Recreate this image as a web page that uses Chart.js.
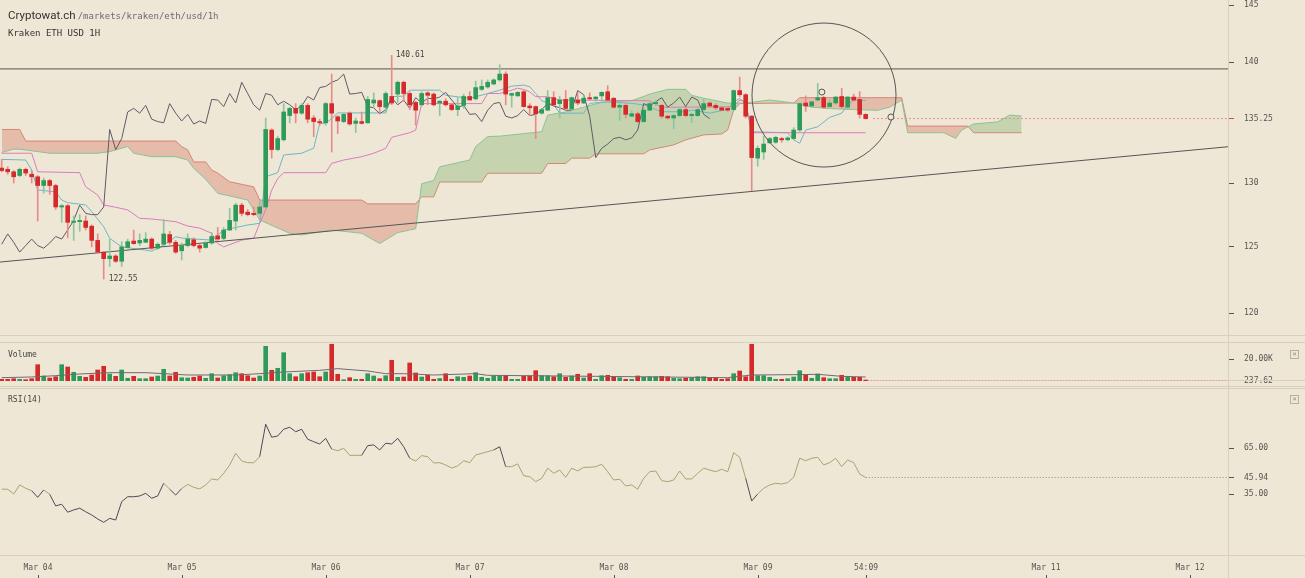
<!DOCTYPE html>
<html>
<head>
<meta charset="utf-8">
<title>Kraken ETH USD 1H</title>
<script src="https://cdn.jsdelivr.net/npm/chart.js@4.4.1/dist/chart.umd.min.js"></script>
<style>
  html, body { margin: 0; padding: 0; }
  body { width: 1305px; height: 578px; position: relative; overflow: hidden; background: #efe7d5; font-family: "DejaVu Sans Mono", monospace; color: #444; }
  canvas { position: absolute; left: 0; }
  #main { top: 0; }
  #vol { top: 343px; }
  #rsi { top: 388px; }
  .rule { position: absolute; background: #d9d0bb; }
  .title { position: absolute; left: 8px; top: 8px; font: 11.5px Roboto, "Liberation Sans", sans-serif; color: #333; white-space: nowrap; }
  .title span { font: 9px "DejaVu Sans Mono", monospace; color: #6e6878; margin-left: 2px; }
  .sub { position: absolute; left: 8px; top: 28px; font: 9px "DejaVu Sans Mono", monospace; color: #333; }
  .pane { position: absolute; left: 8px; font: 8px "DejaVu Sans Mono", monospace; color: #444; }
  .close { position: absolute; left: 1290px; width: 7px; height: 7px; border: 1px solid #b8b09f; font: 7px/7px "DejaVu Sans Mono", monospace; color: #888; text-align: center; }
</style>
</head>
<body>
<canvas id="main" width="1305" height="336"></canvas>
<canvas id="vol" width="1305" height="43"></canvas>
<canvas id="rsi" width="1305" height="190"></canvas>

<div class="rule" style="left:0;top:335px;width:1305px;height:1px"></div>
<div class="rule" style="left:0;top:342px;width:1305px;height:1px"></div>
<div class="rule" style="left:0;top:386px;width:1305px;height:1px"></div>
<div class="rule" style="left:0;top:388px;width:1305px;height:1px"></div>
<div class="rule" style="left:0;top:555px;width:1305px;height:1px"></div>
<div class="rule" style="left:1228px;top:380px;width:77px;height:1px"></div>
<div class="rule" style="left:1228px;top:0;width:1px;height:578px"></div>

<div class="title">Cryptowat.ch<span>/markets/kraken/eth/usd/1h</span></div>
<div class="sub">Kraken ETH USD 1H</div>
<div class="pane" style="top:350px">Volume</div>
<div class="pane" style="top:395px">RSI(14)</div>
<div class="close" style="top:350px">×</div>
<div class="close" style="top:395px">×</div>

<script>
// hourly candles, first one is Mar 03 18:00 (hour -6 counted from Mar 04 00:00)
const firstBar = -6;

const opens = [
  131.2, 131.1, 130.9, 130.6, 131.1, 130.7, 130.5, 129.8, 130.2, 129.8,
  128.1, 128.2, 126.9, 126.95, 127.0, 126.6, 125.5, 124.6, 124.1, 124.3,
  123.9, 124.95, 125.45, 125.3, 125.35, 125.6, 124.9, 125.2, 125.95, 125.35,
  124.7, 125.1, 125.55, 125.1, 124.95, 125.3, 125.85, 125.65, 126.3, 127.0,
  128.25, 127.7, 127.6, 127.6, 128.1, 134.3, 132.7, 133.5, 135.5, 136.1,
  135.7, 136.35, 135.3, 135.0, 134.9, 136.5, 135.4, 135.0, 135.7, 134.85,
  135.0, 134.9, 136.55, 136.75, 136.2, 137.1, 137.3, 138.3, 137.35, 136.6,
  136.4, 137.4, 137.3, 136.55, 136.7, 136.4, 136.0, 136.35, 137.1, 136.9,
  137.7, 137.9, 138.15, 138.5, 139.0, 137.2, 137.15, 137.5, 136.3, 136.25,
  135.7, 135.95, 137.0, 136.5, 136.85, 136.05, 136.8, 136.55, 137.0, 136.9,
  137.15, 137.5, 136.95, 136.2, 136.35, 135.45, 135.65, 135.0, 135.95, 136.5,
  136.35, 135.45, 135.3, 135.5, 136.0, 135.5, 135.5, 136.0, 136.55, 136.35,
  136.15, 136.1, 136.0, 137.6, 137.25, 135.45, 132.0, 132.5, 133.25, 133.3,
  133.6, 133.5, 133.6, 134.3, 136.55, 136.3, 136.8, 137.0, 136.25, 136.55,
  137.1, 136.2, 137.05, 136.85, 135.6
];
const highs = [
  131.9, 131.3, 131.0, 131.2, 131.2, 131.0, 130.6, 130.4, 130.3, 129.9,
  128.3, 128.3, 127.4, 127.5, 127.4, 126.7, 126.0, 124.6, 125.6, 124.4,
  125.4, 125.6, 126.3, 126.0, 126.1, 125.7, 125.3, 127.1, 126.2, 125.5,
  125.3, 126.0, 125.7, 125.2, 125.4, 126.1, 126.5, 126.5, 128.0, 128.4,
  128.4, 127.9, 128.1, 128.6, 135.3, 134.4, 133.8, 136.5, 136.2, 136.5,
  136.5, 136.5, 135.5, 135.2, 136.6, 139.0, 135.5, 135.7, 135.8, 135.3,
  135.8, 137.1, 137.4, 136.8, 137.5, 140.61, 138.4, 138.4, 137.5, 136.7,
  137.5, 137.5, 137.4, 136.75, 136.9, 136.5, 137.0, 137.3, 137.5, 138.4,
  138.5, 138.5, 138.6, 139.8, 139.2, 137.4, 137.5, 137.6, 136.5, 136.3,
  136.1, 137.6, 137.5, 137.1, 137.6, 137.05, 137.4, 137.2, 137.4, 137.1,
  137.5, 138.0, 137.0, 136.5, 136.5, 135.9, 135.8, 136.1, 136.6, 136.8,
  136.45, 135.5, 135.6, 136.2, 136.2, 135.7, 136.1, 136.9, 136.65, 136.5,
  136.2, 136.2, 137.65, 138.75, 137.35, 135.5, 133.0, 133.8, 133.7, 133.8,
  133.7, 133.75, 134.5, 136.6, 137.15, 136.7, 138.2, 137.1, 136.8, 137.1,
  137.8, 137.1, 137.3, 137.5, 135.65
];
const lows = [
  130.9, 130.7, 130.0, 130.5, 130.6, 130.0, 127.0, 129.2, 129.1, 127.9,
  126.9, 125.7, 125.5, 126.2, 126.3, 125.0, 124.5, 122.55, 123.5, 123.8,
  123.5, 124.9, 125.2, 125.1, 125.35, 124.8, 124.8, 125.1, 125.2, 124.5,
  124.0, 125.0, 125.0, 124.6, 124.9, 125.2, 125.5, 125.55, 126.25, 126.3,
  127.4, 127.4, 127.4, 127.5, 128.0, 132.0, 132.6, 133.4, 134.9, 134.9,
  135.6, 134.9, 133.75, 134.7, 134.7, 132.5, 134.0, 134.9, 134.7, 134.1,
  134.8, 134.85, 136.2, 135.7, 135.8, 136.4, 136.6, 136.7, 136.0, 134.7,
  136.3, 136.4, 136.3, 135.5, 136.3, 135.9, 135.5, 136.1, 136.8, 136.8,
  137.6, 137.8, 138.1, 138.4, 136.4, 136.2, 137.1, 136.2, 135.5, 133.6,
  135.6, 135.9, 136.3, 135.3, 136.0, 135.95, 136.4, 136.5, 136.8, 136.7,
  136.7, 136.7, 136.1, 135.1, 135.3, 135.4, 134.9, 134.9, 135.9, 136.3,
  135.3, 135.2, 134.4, 135.4, 135.4, 134.9, 135.4, 135.9, 136.2, 136.0,
  135.9, 135.85, 135.9, 137.1, 135.3, 129.4, 131.35, 131.9, 133.2, 133.2,
  133.3, 133.4, 133.5, 134.2, 135.85, 136.2, 136.75, 136.1, 136.2, 136.45,
  136.1, 136.0, 136.7, 135.3, 135.2
];
const closes = [
  131.0, 130.9, 130.5, 131.1, 130.8, 130.5, 129.8, 130.2, 129.8, 128.1,
  128.2, 126.9, 127.0, 127.05, 126.5, 125.5, 124.6, 124.1, 124.3, 123.9,
  125.0, 125.4, 125.25, 125.5, 125.6, 124.9, 125.2, 126.0, 125.35, 124.6,
  125.1, 125.6, 125.1, 124.9, 125.3, 125.8, 125.6, 126.3, 127.05, 128.25,
  127.6, 127.5, 127.5, 128.1, 134.35, 132.7, 133.6, 135.8, 136.1, 135.7,
  136.35, 135.2, 135.0, 134.9, 136.5, 135.7, 135.05, 135.6, 134.8, 135.05,
  134.85, 136.85, 136.8, 136.25, 137.35, 136.55, 138.3, 137.35, 136.4, 135.95,
  137.35, 137.2, 136.4, 136.7, 136.4, 136.0, 136.3, 137.1, 136.8, 137.85,
  137.95, 138.3, 138.5, 139.0, 137.3, 137.35, 137.45, 136.25, 136.15, 135.65,
  136.0, 137.0, 136.4, 136.8, 136.1, 137.0, 136.55, 136.95, 136.9, 137.05,
  137.45, 136.8, 136.2, 136.35, 135.6, 135.65, 135.0, 135.95, 136.5, 136.6,
  135.45, 135.3, 135.5, 136.0, 135.5, 135.6, 136.0, 136.5, 136.3, 136.15,
  135.95, 135.95, 137.6, 137.25, 135.45, 132.05, 132.8, 133.15, 133.6, 133.7,
  133.5, 133.65, 134.3, 136.5, 136.3, 136.65, 137.0, 136.2, 136.55, 137.05,
  136.25, 137.05, 136.8, 135.6, 135.25
];
const volumes = [
  1570, 1570, 2120, 1570, 1200, 2120, 15030, 4610, 2770, 3960,
  15030, 12910, 8020, 4330, 3410, 5530, 10140, 13550, 6450, 4330,
  10140, 2490, 4330, 2120, 2120, 3690, 4610, 10790, 4610, 8020,
  3040, 2770, 3410, 4610, 2490, 6730, 2770, 4890, 5810, 7650,
  6730, 4890, 2770, 4610, 31990, 9870, 11710, 26090, 6730, 3960,
  6730, 7650, 8300, 3960, 8300, 33840, 6180, 1200, 3040, 1570,
  1570, 6730, 4610, 2120, 4890, 19090, 3410, 3690, 16600, 7380,
  3690, 5260, 1570, 2300, 6730, 1570, 3960, 3410, 4610, 7650,
  3410, 2490, 4610, 4610, 5260, 1570, 1570, 4330, 4610, 9500,
  4890, 4890, 3960, 6730, 3410, 4610, 6180, 2770, 6730, 1570,
  4890, 5260, 3960, 3040, 1570, 1570, 4610, 3410, 3960, 3960,
  4330, 3960, 2490, 2120, 2490, 3040, 3960, 3960, 2770, 3040,
  1570, 2120, 6730, 9220, 3960, 33840, 4890, 4890, 3410, 1570,
  1570, 2120, 3690, 9500, 5530, 2490, 6450, 3040, 2120, 2120,
  5260, 3960, 3410, 3410, 237.62
];
const rsiValues = [
  38.3, 38.3, 35.2, 41.1, 38.9, 37.3, 33.0, 37.8, 35.0, 27.4,
  28.5, 23.3, 24.8, 25.9, 23.6, 21.5, 18.9, 16.7, 19.3, 18.2,
  30.2, 33.4, 33.4, 33.9, 35.6, 32.4, 33.9, 42.2, 38.3, 34.5,
  38.7, 41.5, 39.5, 38.5, 41.1, 45.0, 44.3, 48.7, 54.1, 61.7,
  56.7, 55.6, 55.6, 59.5, 80.7, 72.2, 73.0, 77.4, 78.7, 75.8,
  77.4, 70.9, 69.3, 67.8, 71.5, 64.5, 63.4, 65.0, 60.4, 60.4,
  60.4, 66.7, 67.2, 63.9, 68.3, 67.8, 71.5, 66.0, 58.5, 56.7,
  60.2, 59.5, 55.4, 55.6, 54.1, 52.1, 53.5, 56.9, 55.6, 60.6,
  61.7, 62.8, 63.9, 66.0, 53.0, 53.0, 54.8, 47.1, 46.5, 43.2,
  45.4, 52.0, 48.7, 50.8, 46.1, 52.0, 50.2, 52.6, 52.6, 53.0,
  54.6, 49.7, 44.3, 44.8, 40.4, 41.1, 38.3, 45.4, 49.7, 50.2,
  43.9, 43.2, 44.3, 50.2, 45.0, 45.0, 48.7, 52.0, 50.8, 49.7,
  51.3, 49.7, 62.1, 59.1, 45.4, 30.6, 35.2, 38.9, 41.1, 42.2,
  41.7, 42.6, 46.1, 58.5, 56.9, 58.5, 59.1, 54.1, 55.6, 58.5,
  53.0, 57.4, 55.6, 48.2, 45.94
];

// indicator lines as [bar index, value] vertices
const tenkanPts = [
  [0,131.9],[4,131.85],[5,131.04],[6,129.45],[9,129.3],[10,128.65],[11,128.44],[14,128.26],[15,127.74],
  [17,126.56],[18,125.66],[20,125.0],[24,124.75],[25,124.67],[27,125.13],[29,125.78],[30,125.68],[33,125.58],
  [35,125.52],[37,126.3],[41,126.69],[43,126.82],[44,130.5],[46,130.83],[47,132.26],[50,132.4],[52,132.81],
  [53,134.85],[54,134.85],[55,135.26],[56,135.72],[64,135.72],[65,137.08],[67,137.13],[68,137.63],[73,137.63],
  [74,137.2],[78,136.94],[81,137.35],[83,137.63],[85,137.97],[87,138.06],[88,137.92],[89,137.35],[90,136.74],
  [92,136.4],[93,135.7],[97,135.7],[98,136.52],[101,136.65],[105,136.52],[107,136.38],[110,135.82],[114,135.82],
  [115,135.96],[118,135.7],[121,136.02],[122,136.65],[123,136.93],[124,136.52],[125,134.16],[131,134.08],
  [132,133.49],[133,133.22],[134,134.3],[136,134.57],[138,135.35],[140,135.7],[141,136.37],[142,136.8],[144,136.76]
];
const kijunPts = [
  [0,132.4],[5,132.4],[6,130.9],[13,130.83],[14,129.7],[16,129.05],[17,128.26],[19,128.08],[21,127.87],
  [23,127.21],[25,127.16],[29,126.95],[31,126.61],[33,126.45],[35,126.05],[36,125.26],[37,125.0],[40,125.52],
  [42,125.66],[43,126.82],[44,127.87],[45,129.43],[46,130.36],[47,130.83],[54,130.83],[55,131.58],[57,131.85],
  [60,132.12],[62,132.4],[64,132.8],[65,133.7],[68,134.08],[69,134.3],[70,136.5],[80,136.5],[81,137.35],
  [83,137.35],[85,137.63],[86,137.8],[87,137.69],[88,137.49],[89,137.08],[91,137.08],[93,136.8],[108,136.74],
  [110,136.19],[122,136.24],[123,136.8],[124,136.65],[125,134.08],[144,134.08]
];
const spanAPts = [
  [0,132.47],[2,132.73],[3,132.73],[8,132.4],[16,132.4],[18,132.53],[21,132.95],[22,132.4],[25,132.12],
  [29,132.12],[31,131.85],[32,131.18],[34,130.3],[36,129.18],[41,128.65],[43,127.08],[48,126.05],[50,125.92],
  [55,126.3],[60,126.05],[63,125.26],[66,126.1],[68,126.3],[69,126.4],[70,129.95],[72,130.2],[73,131.3],
  [78,131.85],[79,132.95],[81,133.76],[83,133.8],[90,134.16],[91,135.54],[94,135.8],[97,136.2],[100,136.6],
  [105,136.75],[107,137.1],[108,137.3],[111,137.7],[114,137.7],[115,137.2],[117,136.95],[121,136.55],
  [124,136.55],[128,136.8],[132,136.55],[135,136.2],[138,136.08],[142,136.0],[146,135.94],[148,136.2],
  [150,136.8],[151,134.08],[157,134.08],[159,133.62],[160,134.3],[162,134.8],[166,134.98],[168,135.54],[170,135.46]
];
const spanBPts = [
  [0,134.35],[3,134.35],[4,133.4],[29,133.4],[30,132.95],[31,132.67],[32,131.7],[34,131.7],[35,131.05],
  [36,130.8],[38,130.1],[42,129.7],[43,128.65],[60,128.65],[61,128.35],[69,128.35],[70,128.9],[72,128.9],
  [73,130.08],[80,130.08],[81,130.78],[90,130.78],[91,131.57],[94,131.57],[95,132.0],[98,132.0],[99,132.35],
  [107,132.35],[108,132.67],[112,133.08],[114,133.49],[117,133.9],[120,133.98],[121,134.3],[122,135.96],
  [123,136.5],[132,136.55],[133,137.0],[150,137.0],[151,134.63],[161,134.63],[162,134.08],[170,134.08]
];
const volumeMaPts = [
  [0,3070],[5,3690],[9,4920],[13,6450],[18,7680],[24,7680],[31,5530],[39,5530],[43,6760],[47,8300],
  [53,9830],[56,11370],[61,9220],[64,6760],[67,6760],[72,5500],[79,6760],[81,5230],[99,4300],[121,3070],
  [125,5530],[132,5840],[136,6150],[140,4300],[144,3690]
];

// drawings on the price pane (hours from Mar 04 00:00, prices)
const levelPrice = 139.44;
const trendFrom = 123.84, trendTo = 132.93;
const circleNote = { hour: 131.05, price: 137.22, radiusHours: 12 };
const circleHandles = [[130.7, 137.47], [142.2, 135.38]];

const priceTicks = [120, 125, 130, 135.25, 140, 145];
const volumeTicks = [237.62, 20000];
const rsiTicks = [35, 45.94, 65];
const dayTickHours = [0, 24, 48, 72, 96, 120, 138, 168, 192];
const dayLabels = ['Mar 04', 'Mar 05', 'Mar 06', 'Mar 07', 'Mar 08', 'Mar 09', '54:09', 'Mar 11', 'Mar 12'];

const xMin = -6.283, xMax = 198.383;

Chart.defaults.font.family = '"DejaVu Sans Mono", monospace';
Chart.defaults.font.size = 8;
Chart.defaults.color = '#555';

const GREEN = '#2e9b5b', RED = '#d42a2a';
const GREEN_WICK = '#8cc69c', RED_WICK = '#e58b8b';
const last = closes.length - 1;
const barHour = i => i + firstBar;
const up = i => closes[i] >= opens[i];
const pts = list => list.map(p => ({ x: barHour(p[0]), y: p[1] }));

const xAxis = { type: 'linear', min: xMin, max: xMax, offset: false, display: false };

function fitAxis(s) {
  s.width = 77;
  s.paddingTop = 0;
  s.paddingBottom = 0;
}

function rightAxis(ticks, fmt, markValue, markColor) {
  return {
    position: 'right',
    afterBuildTicks: s => { s.ticks = ticks.map(v => ({ value: v })); },
    afterFit: fitAxis,
    border: { display: false },
    grid: {
      drawOnChartArea: false,
      tickLength: 6,
      tickColor: c => (c.tick && c.tick.value === markValue) ? markColor : '#555'
    },
    ticks: { padding: 10, autoSkip: false, color: '#555', callback: fmt }
  };
}

const line = (data, color, extra) => Object.assign({
  type: 'line', data: data, borderColor: color, borderWidth: 1,
  pointRadius: 0, tension: 0, fill: false
}, extra || {});

const baseOptions = {
  responsive: false,
  animation: false,
  devicePixelRatio: 1,
  events: [],
  plugins: { legend: { display: false }, tooltip: { enabled: false } }
};

// circle, handles and high / low labels
const notes = {
  id: 'notes',
  afterDatasetsDraw(chart) {
    const { ctx, scales: { x, y } } = chart;
    ctx.save();
    ctx.strokeStyle = '#555';
    ctx.lineWidth = 1;
    const cx = x.getPixelForValue(circleNote.hour);
    const cy = y.getPixelForValue(circleNote.price);
    const r = x.getPixelForValue(circleNote.hour + circleNote.radiusHours) - cx;
    ctx.beginPath();
    ctx.arc(cx, cy, r, 0, Math.PI * 2);
    ctx.stroke();
    circleHandles.forEach(h => {
      ctx.beginPath();
      ctx.arc(x.getPixelForValue(h[0]), y.getPixelForValue(h[1]), 3, 0, Math.PI * 2);
      ctx.fillStyle = '#efe7d5';
      ctx.fill();
      ctx.stroke();
    });

    const hiIdx = highs.indexOf(Math.max(...highs));
    const loIdx = lows.indexOf(Math.min(...lows));
    ctx.fillStyle = '#444';
    ctx.font = '8px "DejaVu Sans Mono", monospace';
    ctx.textBaseline = 'middle';
    ctx.fillText(highs[hiIdx].toFixed(2), x.getPixelForValue(barHour(hiIdx)) + 4, y.getPixelForValue(highs[hiIdx]));
    ctx.fillText(lows[loIdx].toFixed(2), x.getPixelForValue(barHour(loIdx)) + 5, y.getPixelForValue(lows[loIdx]));
    ctx.restore();
  }
};

new Chart(document.getElementById('main'), {
  type: 'bar',
  data: {
    datasets: [
      line(pts(spanAPts), '#88c391', {
        order: 5,
        fill: { target: 1, above: 'rgba(100,170,90,0.3)', below: 'rgba(205,90,70,0.3)' }
      }),
      line(pts(spanBPts), '#dc8a7e', { order: 5 }),
      line(closes.slice(26).map((c, k) => ({ x: barHour(k), y: c })), '#5e5968', { order: 3 }),
      line(pts(kijunPts), '#d97cbc', { order: 3 }),
      line(pts(tenkanPts), '#6db6c4', { order: 3 }),
      line([{ x: xMin, y: levelPrice }, { x: xMax, y: levelPrice }], '#555', { order: 2 }),
      line([{ x: xMin, y: trendFrom }, { x: xMax, y: trendTo }], '#555', { order: 2 }),
      line([{ x: barHour(last) + 1.2, y: closes[last] }, { x: xMax, y: closes[last] }], '#e39090',
        { order: 2, borderDash: [2, 2] }),
      {
        data: highs.map((h, i) => ({ x: barHour(i), y: [lows[i], h] })),
        backgroundColor: highs.map((h, i) => up(i) ? GREEN_WICK : RED_WICK),
        barThickness: 1, grouped: false, order: 1
      },
      {
        data: opens.map((o, i) => ({ x: barHour(i), y: [o, closes[i]] })),
        backgroundColor: opens.map((o, i) => up(i) ? GREEN : RED),
        barThickness: 4, minBarLength: 1, grouped: false, order: 0
      }
    ]
  },
  options: Object.assign({}, baseOptions, {
    scales: {
      x: xAxis,
      y: Object.assign(rightAxis(priceTicks, v => v === closes[last] ? v.toFixed(2) : String(v), closes[last], '#d24a4a'),
        { type: 'logarithmic', min: 118.34, max: 145.47 })
    }
  }),
  plugins: [notes]
});

new Chart(document.getElementById('vol'), {
  type: 'bar',
  data: {
    datasets: [
      line(pts(volumeMaPts), '#6f6a72', { order: 0 }),
      line([{ x: barHour(last) + 0.3, y: volumes[last] }, { x: xMax, y: volumes[last] }], '#e08a8a',
        { order: 0, borderDash: [2, 1] }),
      {
        data: volumes.map((v, i) => ({ x: barHour(i), y: v })),
        backgroundColor: volumes.map((v, i) => up(i) ? GREEN : RED),
        barThickness: 4, minBarLength: 1, order: 1
      }
    ]
  },
  options: Object.assign({}, baseOptions, {
    layout: { padding: { top: 0, bottom: 5, left: 0, right: 0 } },
    scales: {
      x: xAxis,
      y: Object.assign(rightAxis(volumeTicks, v => v >= 1000 ? (v / 1000).toFixed(2) + 'K' : v.toFixed(2),
        volumes[last], '#d24a4a'), { type: 'linear', min: 0, max: 35000 })
    }
  })
});

const timeAxis = {
  id: 'timeAxis',
  afterDraw(chart) {
    const { ctx, chartArea, scales: { x } } = chart;
    ctx.save();
    ctx.font = '8px "DejaVu Sans Mono", monospace';
    ctx.fillStyle = '#555';
    ctx.textAlign = 'center';
    ctx.textBaseline = 'middle';
    dayTickHours.forEach((h, k) => {
      const px = Math.round(x.getPixelForValue(h));
      ctx.fillText(dayLabels[k], px, chartArea.bottom + 13);
      ctx.fillRect(px, chartArea.bottom + 20, 1, 3);
    });
    ctx.restore();
  }
};

const RSI_MID = '#9aa872', RSI_EDGE = '#4e4859';
new Chart(document.getElementById('rsi'), {
  type: 'line',
  data: {
    datasets: [
      line(rsiValues.map((v, i) => ({ x: barHour(i), y: v })), RSI_MID, {
        segment: {
          borderColor: c => {
            const a = c.p0.parsed.y, b = c.p1.parsed.y;
            return (Math.max(a, b) > 65 || Math.min(a, b) < 35) ? RSI_EDGE : RSI_MID;
          }
        }
      }),
      line([{ x: barHour(last), y: rsiValues[last] }, { x: xMax, y: rsiValues[last] }], '#8a8690',
        { borderDash: [1, 2] })
    ]
  },
  options: Object.assign({}, baseOptions, {
    layout: { padding: { top: 0, bottom: 23, left: 0, right: 0 } },
    scales: {
      x: xAxis,
      y: Object.assign(rightAxis(rsiTicks, v => v.toFixed(2), -1, '#555'), { type: 'linear', min: -4.6, max: 104.3 })
    }
  }),
  plugins: [timeAxis]
});
</script>
</body>
</html>
